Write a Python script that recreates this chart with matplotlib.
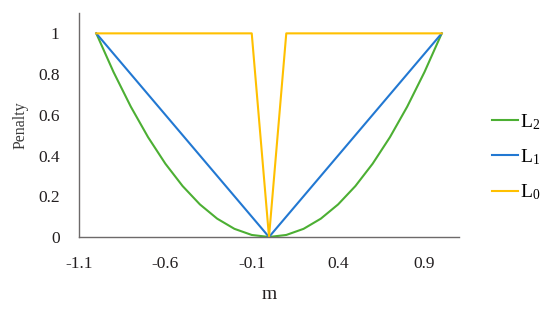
import matplotlib.pyplot as plt

plt.rcParams['font.family'] = ['Liberation Serif', 'DejaVu Serif']
plt.rcParams['mathtext.fontset'] = 'custom'
plt.rcParams['mathtext.rm'] = 'Liberation Serif'
plt.rcParams['mathtext.it'] = 'Liberation Serif'

# data
m = [-1.0, -0.9, -0.8, -0.7, -0.6, -0.5, -0.4, -0.3, -0.2, -0.1, 0.0,
     0.1, 0.2, 0.3, 0.4, 0.5, 0.6, 0.7, 0.8, 0.9, 1.0]
L2 = [1.0, 0.81, 0.64, 0.49, 0.36, 0.25, 0.16, 0.09, 0.04, 0.01, 0.0,
      0.01, 0.04, 0.09, 0.16, 0.25, 0.36, 0.49, 0.64, 0.81, 1.0]
L1 = [1.0, 0.9, 0.8, 0.7, 0.6, 0.5, 0.4, 0.3, 0.2, 0.1, 0.0,
      0.1, 0.2, 0.3, 0.4, 0.5, 0.6, 0.7, 0.8, 0.9, 1.0]
L0 = [1, 1, 1, 1, 1, 1, 1, 1, 1, 1, 0,
      1, 1, 1, 1, 1, 1, 1, 1, 1, 1]
xticks = [-1.1, -0.6, -0.1, 0.4, 0.9]
yticks = [0, 0.2, 0.4, 0.6, 0.8, 1]
ytick_labels = ['0', '0.2', '0.4', '0.6', '0.8', '1']

fig = plt.figure(figsize=(5.5, 3.17), dpi=100)
ax = fig.add_axes([0.1436, 0.2524, 0.691, 0.7066])

ax.plot(m, L2, color='#4caf33', lw=1.5, label='L$_2$')
ax.plot(m, L1, color='#2278d2', lw=1.5, label='L$_1$')
ax.plot(m, L0, color='#ffc000', lw=1.5, label='L$_0$')

ax.set_xlim(-1.1, 1.1)
ax.set_ylim(0, 1.1)
ax.set_xticks(xticks)
ax.set_xticklabels([str(t) for t in xticks])
ax.set_yticks(yticks)
ax.set_yticklabels(ytick_labels)
ax.tick_params(length=0, labelsize=12.5, colors='#231f20')
ax.tick_params(axis='x', pad=14)
ax.tick_params(axis='y', pad=14)

for s in ['top', 'right']:
    ax.spines[s].set_visible(False)
for s in ['left', 'bottom']:
    ax.spines[s].set_color('#6d6a6a')
    ax.spines[s].set_linewidth(1.0)

ax.set_xlabel('m', fontsize=14, color='#231f20', labelpad=10)
ax.set_ylabel('Penalty', fontsize=11.5, color='#3a3a3a', labelpad=7)

fig.legend(loc='center left', bbox_to_anchor=(0.8945, 0.505), frameon=False,
           fontsize=14, handlelength=1.34, handletextpad=0.12, labelspacing=0.8,
           borderpad=0, borderaxespad=0)

fig.savefig('out.png', dpi=100)
